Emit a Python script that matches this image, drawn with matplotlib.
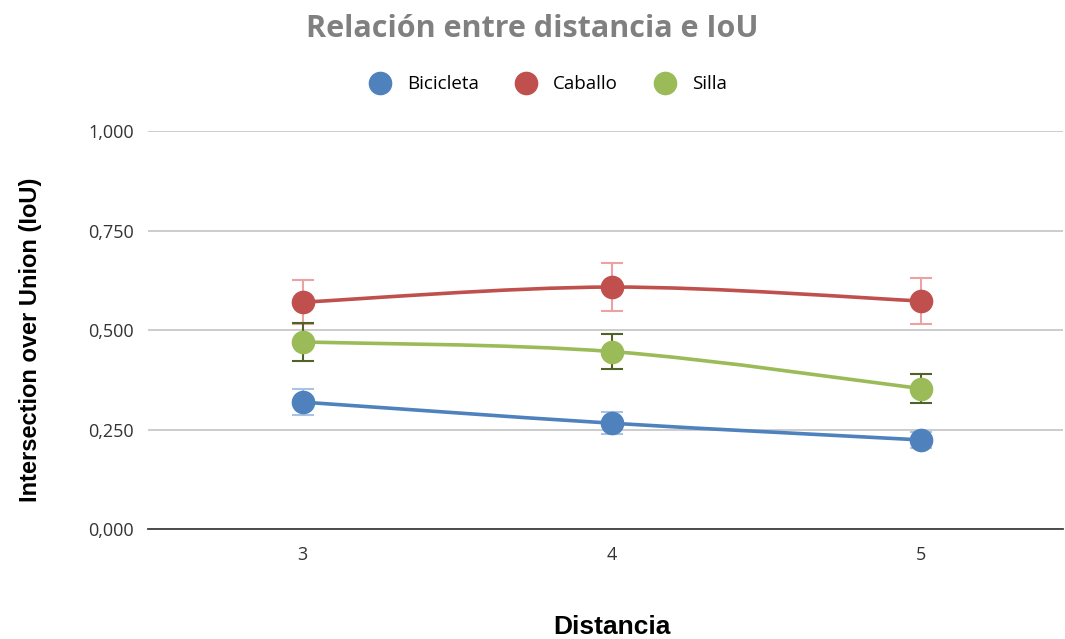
import matplotlib.pyplot as plt
from matplotlib.path import Path
from matplotlib.patches import PathPatch
from matplotlib.lines import Line2D
from matplotlib.ticker import FuncFormatter

# data
distancia = [3, 4, 5]
bicicleta = [0.319, 0.266, 0.224]
bicicleta_err = [0.033, 0.028, 0.020]
caballo = [0.570, 0.608, 0.573]
caballo_err = [0.056, 0.060, 0.058]
silla = [0.470, 0.446, 0.353]
silla_err = [0.048, 0.044, 0.036]

series = [
    ('Bicicleta', bicicleta, bicicleta_err, '#4F81BD', '#A9C3E4'),
    ('Caballo', caballo, caballo_err, '#C0504D', '#E8A3A2'),
    ('Silla', silla, silla_err, '#9BBB59', '#4F6228'),
]


def smooth_path(xs, ys):
    # cubic bezier through the points (Excel-like smoothed line)
    pts = list(zip(xs, ys))
    verts = [pts[0]]
    codes = [Path.MOVETO]
    n = len(pts)
    for i in range(n - 1):
        p0 = pts[max(i - 1, 0)]
        p1 = pts[i]
        p2 = pts[i + 1]
        p3 = pts[min(i + 2, n - 1)]
        c1 = (p1[0] + (p2[0] - p0[0]) / 6, p1[1] + (p2[1] - p0[1]) / 6)
        c2 = (p2[0] - (p3[0] - p1[0]) / 6, p2[1] - (p3[1] - p1[1]) / 6)
        verts += [c1, c2, p2]
        codes += [Path.CURVE4] * 3
    return Path(verts, codes)


fig = plt.figure(figsize=(10.65, 6.39), dpi=100)
ax = fig.add_axes([0.139, 0.172, 0.859, 0.623])

handles = []
for name, vals, errs, color, ecolor in series:
    ax.add_patch(PathPatch(smooth_path(distancia, vals), facecolor='none',
                           edgecolor=color, lw=2.6, zorder=3))
    ax.errorbar(distancia, vals, yerr=errs, fmt='none', ecolor=ecolor,
                elinewidth=1.5, capsize=8, capthick=1.5, zorder=4)
    ax.plot(distancia, vals, 'o', color=color, markersize=16, zorder=5)
    handles.append(Line2D([], [], marker='o', ls='none', color=color,
                          markersize=16, label=name))

ax.set_xlim(2.5, 5.46)
ax.set_ylim(0, 1.0)
ax.set_xticks(distancia)
ax.set_yticks([0, 0.25, 0.5, 0.75, 1.0])
ax.yaxis.set_major_formatter(FuncFormatter(lambda v, p: f'{v:.3f}'.replace('.', ',')))
ax.tick_params(axis='y', length=0, labelsize=13, labelcolor='#333333', pad=10)
ax.tick_params(axis='x', length=0, labelsize=13, labelcolor='#333333', pad=12)
for lab in ax.get_xticklabels() + ax.get_yticklabels():
    lab.set_family('Open Sans')
ax.grid(axis='y', color='#C8C8C8', lw=1.3)
ax.set_axisbelow(True)
for s in ['top', 'right', 'left']:
    ax.spines[s].set_visible(False)
ax.spines['bottom'].set_color('#404040')
ax.spines['bottom'].set_linewidth(1.3)

ax.set_ylabel('Intersection over Union (IoU)', fontsize=17, fontweight='bold',
              family='Liberation Sans')
ax.yaxis.set_label_coords(-0.129, 0.475)
ax.set_xlabel('Distancia', fontsize=19, fontweight='bold',
              family='Liberation Sans')
ax.xaxis.set_label_coords(0.507, -0.246)
ax.xaxis.label.set_va('center')
ax.yaxis.label.set_va('center')

fig.suptitle('Relación entre distancia e IoU', y=0.954, va='center', fontsize=22,
             fontweight='bold', color='#808080', family='Open Sans')
fig.legend(handles=handles, loc='center', bbox_to_anchor=(0.511, 0.868), ncol=3,
           frameon=False, prop={'family': 'Open Sans', 'size': 13.5},
           handletextpad=0.45, columnspacing=1.5)

plt.savefig('out.png', dpi=100)
